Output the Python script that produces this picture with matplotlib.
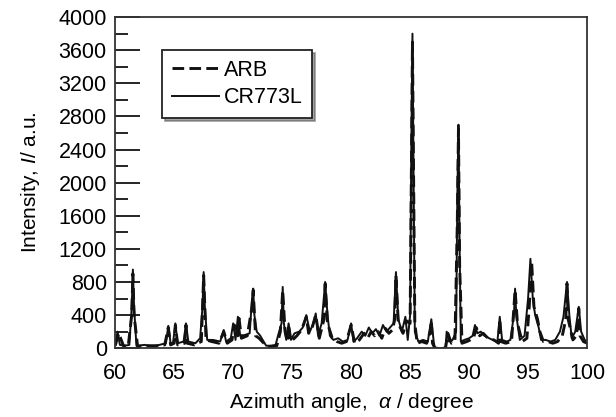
import matplotlib
matplotlib.use("Agg")
import matplotlib.pyplot as plt
from matplotlib.ticker import MultipleLocator

plt.rcParams['font.family'] = ['Liberation Sans', 'DejaVu Sans']
plt.rcParams['mathtext.fontset'] = 'custom'
plt.rcParams['mathtext.it'] = 'Liberation Sans:italic'
plt.rcParams['mathtext.rm'] = 'Liberation Sans'

# CR773L (solid)
cr_x = [60.0, 60.2, 60.4, 60.8, 61.2, 61.4, 61.5, 61.6, 61.8, 62.5, 63.2, 64.0, 64.3, 64.5,
        64.7, 64.9, 65.1, 65.3, 65.8, 66.0, 66.2, 66.8, 67.2, 67.4, 67.5, 67.6, 67.8, 68.3,
        68.9, 69.2, 69.4, 69.8, 70.0, 70.2, 70.4, 70.6, 71.0, 71.4, 71.6, 71.7, 71.8, 72.0,
        72.3, 72.5, 72.8, 73.3, 73.6, 73.8, 74.1, 74.2, 74.3, 74.5, 74.7, 74.9, 75.2, 75.6,
        75.9, 76.2, 76.5, 76.8, 77.0, 77.2, 77.5, 77.8, 78.0, 78.2, 78.5, 78.9, 79.3, 79.7,
        80.0, 80.2, 80.5, 80.9, 81.2, 81.5, 81.8, 82.1, 82.4, 82.7, 83.0, 83.3, 83.6, 83.8,
        84.0, 84.3, 84.6, 84.8, 85.0, 85.1, 85.2, 85.3, 85.4, 85.7, 86.1, 86.5, 86.8, 87.0,
        87.1, 88.0, 88.1, 88.3, 88.6, 88.9, 89.0, 89.1, 89.2, 89.3, 89.6, 90.0, 90.3, 90.5,
        90.7, 91.0, 91.3, 91.7, 92.0, 92.4, 92.6, 92.8, 93.2, 93.5, 93.8, 93.9, 94.0, 94.3,
        94.7, 95.0, 95.2, 95.4, 95.6, 95.9, 96.1, 96.5, 96.9, 97.3, 97.7, 98.0, 98.3, 98.5,
        98.7, 99.0, 99.3, 99.5, 99.8, 100.0]
cr_y = [50, 200, 40, 30, 40, 500, 950, 500, 30, 40, 20, 50, 60, 270,
        60, 60, 300, 60, 80, 300, 80, 60, 120, 500, 920, 500, 100, 100,
        80, 220, 80, 120, 300, 100, 380, 150, 160, 180, 600, 720, 400, 200,
        150, 100, 30, 30, 40, 150, 300, 740, 300, 100, 300, 100, 180, 200,
        250, 400, 200, 300, 420, 150, 300, 800, 400, 150, 100, 120, 80, 100,
        300, 80, 120, 200, 150, 250, 180, 230, 150, 280, 200, 250, 300, 920,
        350, 200, 380, 100, 400, 2400, 3800, 2000, 200, 80, 100, 80, 350, 80,
        0, 0, 200, 80, 100, 200, 1800, 2700, 1200, 80, 100, 120, 150, 280,
        180, 200, 150, 120, 100, 80, 380, 100, 80, 100, 400, 720, 400, 100,
        150, 600, 1080, 600, 400, 250, 100, 100, 80, 100, 200, 380, 800, 400,
        120, 200, 500, 200, 100, 80]

# ARB (dashed)
arb_x = [60.0, 60.3, 60.7, 61.1, 61.4, 61.5, 61.6, 61.9, 62.6, 63.5, 64.2, 64.5, 64.7,
         65.0, 65.1, 65.3, 65.9, 66.0, 66.1, 66.7, 67.3, 67.5, 67.7, 68.2, 68.8, 69.2,
         69.5, 69.9, 70.1, 70.4, 70.5, 70.7, 71.2, 71.6, 71.7, 71.9, 72.2, 72.6, 73.0,
         73.7, 74.0, 74.2, 74.4, 74.6, 74.7, 74.9, 75.4, 75.8, 76.2, 76.4, 76.7, 77.0,
         77.3, 77.7, 77.8, 78.0, 78.4, 78.8, 79.2, 79.6, 80.0, 80.3, 80.7, 81.1, 81.4,
         81.7, 82.0, 82.3, 82.6, 82.9, 83.2, 83.5, 83.7, 83.8, 84.0, 84.4, 84.7, 85.0,
         85.2, 85.4, 85.6, 86.0, 86.4, 86.7, 86.8, 86.9, 87.1, 88.0, 88.2, 88.5, 88.8,
         89.0, 89.1, 89.2, 89.4, 89.8, 90.1, 90.4, 90.6, 90.9, 91.2, 91.6, 92.1, 92.5,
         92.6, 92.7, 93.1, 93.6, 93.9, 94.1, 94.5, 94.9, 95.1, 95.3, 95.5, 95.8, 96.0,
         96.3, 96.7, 97.1, 97.5, 97.9, 98.2, 98.3, 98.4, 98.8, 99.1, 99.3, 99.4, 99.7,
         100.0]
arb_y = [30, 180, 30, 20, 400, 900, 400, 20, 30, 30, 40, 250, 40,
         60, 280, 40, 60, 280, 60, 40, 80, 880, 100, 80, 60, 200,
         60, 100, 280, 150, 360, 120, 150, 500, 700, 150, 120, 60, 20,
         30, 200, 700, 200, 80, 280, 80, 150, 220, 380, 180, 250, 400,
         120, 350, 780, 300, 120, 80, 60, 80, 280, 60, 100, 180, 120,
         200, 150, 200, 120, 240, 180, 220, 350, 880, 300, 180, 330, 300,
         3700, 300, 60, 80, 60, 200, 330, 60, 0, 0, 180, 60, 80,
         1500, 2650, 1000, 60, 80, 100, 130, 250, 150, 180, 120, 100, 60,
         350, 80, 60, 80, 700, 300, 80, 120, 500, 1050, 500, 350, 200,
         80, 80, 60, 80, 150, 350, 780, 350, 100, 150, 480, 150, 80,
         60]

fig = plt.figure(figsize=(6.16, 4.17), dpi=100)
ax = fig.add_axes([0.187, 0.165, 0.766, 0.794])

ax.plot(arb_x, arb_y, color='#111111', linewidth=2.1, linestyle=(0, (4, 1.8)), label='ARB')
ax.plot(cr_x, cr_y, color='#111111', linewidth=1.4, label='CR773L')

ax.set_xlim(60, 100)
ax.set_ylim(0, 4000)
ax.xaxis.set_major_locator(MultipleLocator(5))
ax.yaxis.set_major_locator(MultipleLocator(400))
ax.yaxis.set_minor_locator(MultipleLocator(200))
ax.tick_params(axis='x', length=0, pad=11, labelsize=15.5)
ax.tick_params(axis='y', which='major', direction='in', length=18, width=1.2, pad=6, labelsize=15.5)
ax.tick_params(axis='y', which='minor', direction='in', length=9.5, width=1.2)
for s in ax.spines.values():
    s.set_linewidth(1.3)
    s.set_color('#333333')

ax.set_ylabel('Intensity, $\\mathit{I}$/ a.u.', fontsize=15, labelpad=12)
ax.set_xlabel('Azimuth angle,  $\\mathit{\\alpha}$ / degree', fontsize=15, labelpad=5)

leg = ax.legend(loc='upper left', bbox_to_anchor=(0.10, 0.90), fontsize=15.5,
                frameon=True, fancybox=False, shadow=True, handlelength=2.2,
                handletextpad=0.2, borderpad=0.45, labelspacing=0.3, borderaxespad=0)
leg.get_frame().set_edgecolor('#222222')
leg.get_frame().set_linewidth(1.3)

fig.savefig('out.png', dpi=100)
